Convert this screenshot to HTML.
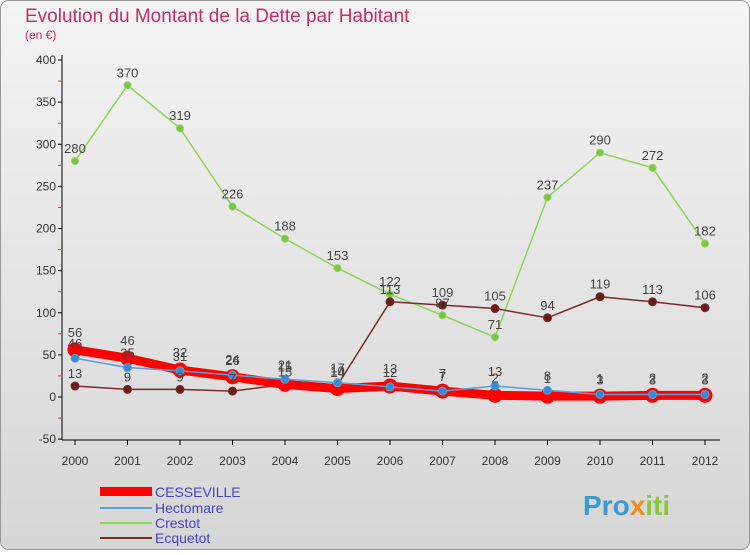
<!DOCTYPE html>
<html><head><meta charset="utf-8"><style>
body{margin:0;width:750px;height:550px;overflow:hidden;font-family:"Liberation Sans",sans-serif}
svg text{font-family:"Liberation Sans",sans-serif}
</style></head><body>
<svg id="c" width="750" height="550" xmlns="http://www.w3.org/2000/svg">
<defs><linearGradient id="bg" x1="0" y1="0" x2="0" y2="1"><stop offset="0" stop-color="#f4f4f4"/><stop offset="1" stop-color="#d6d6d6"/></linearGradient></defs>
<rect x="0.5" y="0.5" width="749" height="549" rx="8" fill="url(#bg)" stroke="#999"/>
<text x="25" y="22" font-size="19" fill="#c0306a">Evolution du Montant de la Dette par Habitant</text>
<text x="25" y="39" font-size="12" fill="#c0306a">(en €)</text>
<g id="axes"></g><g id="series"></g><g id="labels"></g>
<g>
<rect x="100" y="487" width="52" height="9" fill="#ff0000"/>
<text x="155" y="497" font-size="14" fill="#4444cc">CESSEVILLE</text>
<line x1="100" y1="508" x2="152" y2="508" stroke="#5aa0d8" stroke-width="2"/>
<text x="155" y="513" font-size="14" fill="#4444cc">Hectomare</text>
<line x1="100" y1="523" x2="152" y2="523" stroke="#8fd45a" stroke-width="2"/>
<text x="155" y="528" font-size="14" fill="#4444cc">Crestot</text>
<line x1="100" y1="538" x2="152" y2="538" stroke="#7a2a2a" stroke-width="2"/>
<text x="155" y="543" font-size="14" fill="#4444cc">Ecquetot</text>
</g>
<text x="583" y="515" font-size="28" font-weight="bold" fill="#3a9ad9">Pro<tspan fill="#f08c1e">x</tspan><tspan fill="#8cc63f">iti</tspan></text>
</svg>
<script>
const years=["2000","2001","2002","2003","2004","2005","2006","2007","2008","2009","2010","2011","2012"];
const yTicks=[-50,0,50,100,150,200,250,300,350,400];
const cesseville=[56,46,32,24,15,10,13,7,2,1,1,2,2];
const hectomare=[46,35,31,26,21,17,12,7,13,8,3,3,3];
const crestot=[280,370,319,226,188,153,122,97,71,237,290,272,182];
const ecquetot=[13,9,9,7,15,14,113,109,105,94,119,113,106];
const NS="http://www.w3.org/2000/svg";
const X=i=>75+i*52.5, Y=v=>397-v*0.8425;
function mk(t,a,p){const e=document.createElementNS(NS,t);for(const k in a)e.setAttribute(k,a[k]);p.appendChild(e);return e;}
const ax=document.getElementById('axes'),sg=document.getElementById('series'),lg=document.getElementById('labels');
let l=mk('line',{x1:62,y1:55,x2:62,y2:440,stroke:'#000'},ax);


l=mk('line',{x1:62,y1:440,x2:720,y2:440,stroke:'#000'},ax);


yTicks.forEach((v,k)=>{const t=mk('text',{x:56,y:Y(v)+4,'font-size':12,fill:'#333','text-anchor':'end'},ax);t.textContent=v;


mk('line',{x1:58,y1:Y(v),x2:62,y2:Y(v),stroke:'#000'},ax);
if(k<yTicks.length-1)mk('line',{x1:58,y1:Y(v+25),x2:61,y2:Y(v+25),stroke:'#e33'},ax);});
years.forEach((y,i)=>{const t=mk('text',{x:X(i),y:465,'font-size':12,fill:'#333','text-anchor':'middle'},ax);t.textContent=y;


mk('line',{x1:X(i),y1:440,x2:X(i),y2:445,stroke:'#000'},ax);});
function series(d,name,col,w,r,mc,dy){
const p=mk('polyline',{points:d.map((v,i)=>X(i)+','+Y(v)).join(' '),fill:'none',stroke:col,'stroke-width':w,'stroke-linejoin':'round'},sg);


d.forEach((v,i)=>{const c=mk('circle',{cx:X(i),cy:Y(v),r:r,fill:mc,stroke:col,'stroke-width':1},sg);


const t=mk('text',{x:X(i),y:Y(v)-dy,'font-size':13,fill:'#444','text-anchor':'middle'},lg);t.textContent=v;

});}
series(crestot,'crestot','#8fd45a',1.5,3.5,'#7cc444',8);
series(ecquetot,'ecquetot','#7a2a2a',1.5,4,'#6a1a1a',8);
series(cesseville,'cesseville','#ff0000',9,7,'#ff0000',13);
series(hectomare,'hectomare','#5aa0d8',1.5,4,'#3a8ad0',10);
</script>
</body></html>
